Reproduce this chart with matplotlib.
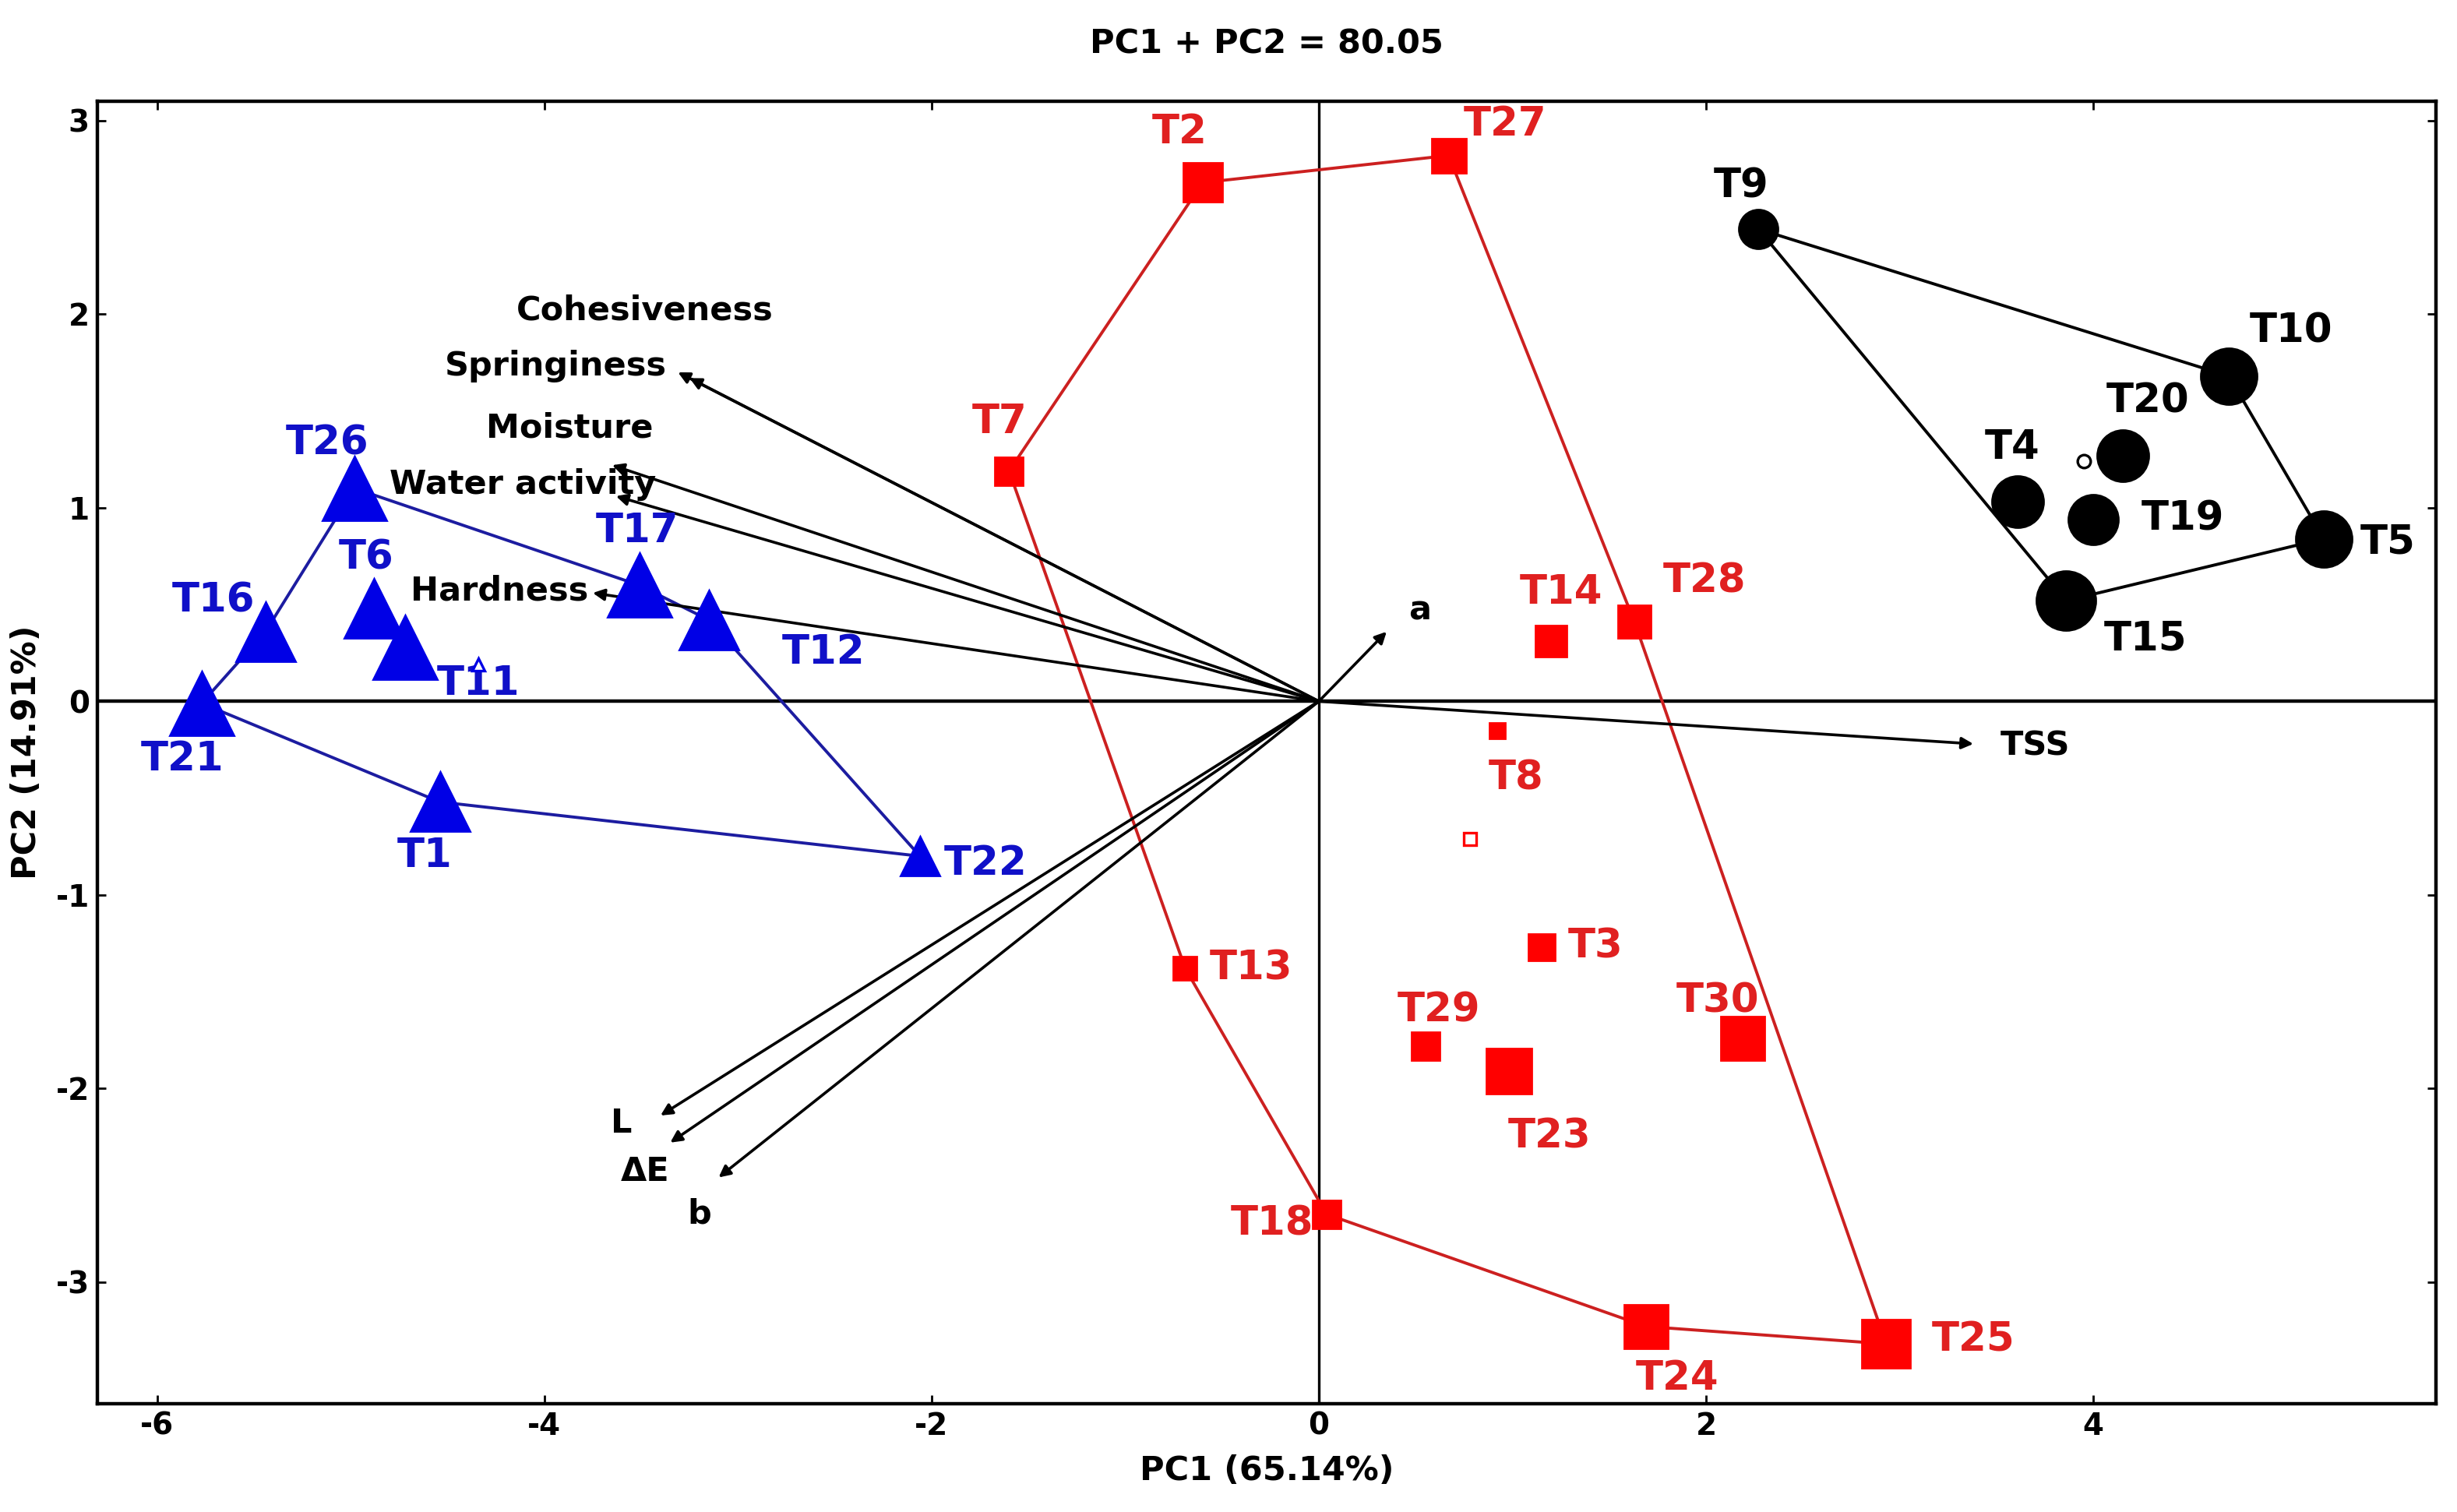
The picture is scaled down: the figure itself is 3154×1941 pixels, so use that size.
import numpy as np
import matplotlib
matplotlib.use("Agg")
import matplotlib.pyplot as plt

plt.rcParams['font.family'] = ['DejaVu Sans']
plt.rcParams['font.weight'] = 'bold'
plt.rcParams['axes.unicode_minus'] = False

# blue group (triangles)
blue_names = ['T26', 'T16', 'T6', 'T11', 'T21', 'T1', 'T22', 'T17', 'T12']
blue_x = [-4.98, -5.44, -4.88, -4.72, -5.77, -4.54, -2.06, -3.51, -3.15]
blue_y = [1.10, 0.36, 0.48, 0.28, -0.01, -0.52, -0.80, 0.60, 0.42]
blue_size = [41, 38, 38, 41, 41, 38, 25, 41, 38]
blue_lx = [-5.12, -5.71, -4.92, -4.34, -5.87, -4.62, -1.72, -3.52, -2.56]
blue_ly = [1.33, 0.52, 0.74, 0.09, -0.30, -0.80, -0.84, 0.88, 0.25]
blue_hull = ['T21', 'T16', 'T26', 'T17', 'T12', 'T22', 'T1', 'T21']
blue_centre = (-4.34, 0.19)

# red group (squares)
red_names = ['T2', 'T27', 'T7', 'T13', 'T18', 'T24', 'T25', 'T28', 'T14',
             'T8', 'T3', 'T29', 'T23', 'T30']
red_x = [-0.60, 0.67, -1.60, -0.69, 0.04, 1.69, 2.93, 1.63, 1.20,
         0.92, 1.15, 0.55, 0.98, 2.19]
red_y = [2.68, 2.82, 1.19, -1.38, -2.65, -3.23, -3.32, 0.41, 0.31,
         -0.15, -1.27, -1.78, -1.91, -1.74]
red_size = [25, 22, 18, 15, 18, 28, 31, 21, 20, 10, 17, 18, 29, 28]
red_lx = [-0.72, 0.96, -1.65, -0.35, -0.24, 1.85, 3.38, 1.99, 1.25,
          1.02, 1.43, 0.62, 1.19, 2.06]
red_ly = [2.94, 2.98, 1.44, -1.38, -2.70, -3.50, -3.30, 0.62, 0.56,
          -0.40, -1.27, -1.60, -2.25, -1.55]
red_hull = ['T7', 'T2', 'T27', 'T28', 'T25', 'T24', 'T18', 'T13', 'T7']
red_centre = (0.78, -0.71)

# black group (circles)
black_names = ['T9', 'T10', 'T20', 'T4', 'T19', 'T5', 'T15']
black_x = [2.27, 4.70, 4.15, 3.61, 4.00, 5.19, 3.86]
black_y = [2.44, 1.68, 1.27, 1.03, 0.94, 0.84, 0.52]
black_size = [25, 36, 33, 33, 32, 36, 38]
black_lx = [2.18, 5.02, 4.28, 3.58, 4.46, 5.52, 4.27]
black_ly = [2.66, 1.91, 1.55, 1.31, 0.94, 0.82, 0.32]
black_hull = ['T9', 'T10', 'T5', 'T15', 'T9']
black_centre = (3.95, 1.24)

# loading vectors
var_names = ['Cohesiveness', 'Springiness', 'Moisture', 'Water activity',
             'Hardness', 'a', 'TSS', 'L', 'ΔE', 'b']
var_x = [-3.25, -3.31, -3.65, -3.63, -3.75, 0.35, 3.38, -3.40, -3.35, -3.10]
var_y = [1.67, 1.70, 1.22, 1.06, 0.56, 0.36, -0.22, -2.14, -2.28, -2.46]
var_lx = [-3.48, -3.94, -3.87, -4.11, -4.23, 0.52, 3.70, -3.60, -3.48, -3.20]
var_ly = [2.02, 1.73, 1.41, 1.12, 0.57, 0.47, -0.23, -2.18, -2.43, -2.65]

fig = plt.figure(figsize=(15.77, 9.705), dpi=200)
ax = fig.add_axes([0.0395, 0.0715, 0.952, 0.8615])

ax.axhline(0, color='black', lw=1.6, zorder=1)
ax.axvline(0, color='black', lw=1.2, zorder=1)

groups = [
    (blue_names, blue_x, blue_y, blue_size, blue_lx, blue_ly, blue_hull, blue_centre,
     '^', '#0000e6', '#1c1ca0', '#1010c8'),
    (red_names, red_x, red_y, red_size, red_lx, red_ly, red_hull, red_centre,
     's', '#ff0000', '#cc2020', '#e02020'),
    (black_names, black_x, black_y, black_size, black_lx, black_ly, black_hull, black_centre,
     'o', 'black', 'black', 'black'),
]

for names, xs, ys, sizes, lxs, lys, hull, centre, mk, mcol, lcol, tcol in groups:
    pos = {n: (x, y) for n, x, y in zip(names, xs, ys)}
    hx = [pos[n][0] for n in hull]
    hy = [pos[n][1] for n in hull]
    ax.plot(hx, hy, color=lcol, lw=1.4, zorder=2)
    for n, x, y, s, lx, ly in zip(names, xs, ys, sizes, lxs, lys):
        ax.plot(x, y, marker=mk, ms=s * 0.72, color=mcol, mec=mcol, ls='none', zorder=3)
        ax.text(lx, ly, n, color=tcol, fontsize=18.5, fontweight='bold',
                ha='center', va='center', zorder=4)
    ax.plot(centre[0], centre[1], marker=mk, ms=6, mfc='white', mec=mcol, mew=1.2,
            ls='none', zorder=4)

for n, x, y, lx, ly in zip(var_names, var_x, var_y, var_lx, var_ly):
    ax.annotate('', xy=(x, y), xytext=(0, 0),
                arrowprops=dict(arrowstyle='-|>', color='black', lw=1.3,
                                mutation_scale=11, shrinkA=0, shrinkB=0),
                zorder=2)
    ax.text(lx, ly, n, color='black', fontsize=15.5, fontweight='bold',
            ha='center', va='center', zorder=4)

ax.set_xlim(-6.31, 5.77)
ax.set_ylim(-3.63, 3.1)
ax.set_xticks([-6, -4, -2, 0, 2, 4])
ax.set_yticks([-3, -2, -1, 0, 1, 2, 3])
ax.tick_params(direction='in', length=4, width=1, top=True, right=True,
               labelsize=14)
for lab in ax.get_xticklabels() + ax.get_yticklabels():
    lab.set_fontweight('bold')
for sp in ax.spines.values():
    sp.set_linewidth(1.6)

ax.set_title('PC1 + PC2 = 80.05', fontsize=15.5, fontweight='bold', pad=22)
ax.set_xlabel('PC1 (65.14%)', fontsize=15.5, fontweight='bold', labelpad=6)
ax.set_ylabel('PC2 (14.91%)', fontsize=15.5, fontweight='bold', labelpad=6)

fig.savefig('out.png', dpi=200)
